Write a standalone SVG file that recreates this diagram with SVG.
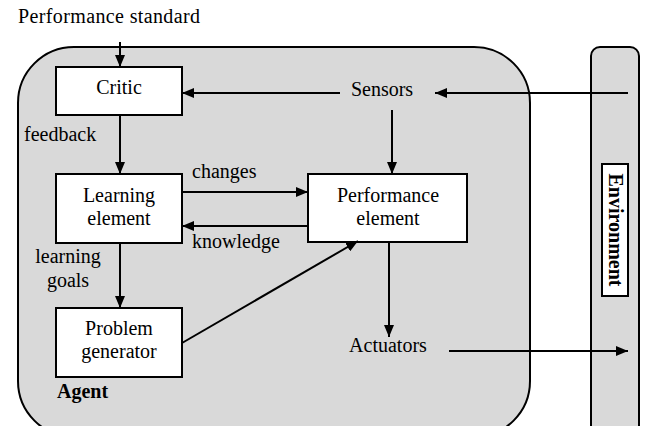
<svg xmlns="http://www.w3.org/2000/svg" width="645" height="426" viewBox="0 0 645 426">
<defs>
<marker id="ah" viewBox="0 0 12 10" refX="12" refY="5" markerWidth="12" markerHeight="10" markerUnits="userSpaceOnUse" orient="auto">
<path d="M0,0 L12,5 L0,10 Z" fill="#000"/>
</marker>
</defs>
<rect width="645" height="426" fill="#fff"/>
<g font-family="Liberation Serif, Times New Roman, serif" font-size="20" font-weight="normal" fill="#000">
<text id="perf-standard" x="18" y="23" textLength="182">Performance standard</text>
<g id="agent-boundary"><rect x="18" y="47" width="512" height="390" rx="56" ry="56" fill="#d9d9d9" stroke="#000" stroke-width="2"/></g>
<g id="environment-boundary">
<rect x="591" y="47" width="48" height="390" rx="9" ry="9" fill="#d9d9d9" stroke="#000" stroke-width="2"/>
<rect x="602" y="164" width="26" height="132" fill="#fff" stroke="#000" stroke-width="2"/>
</g>
<g text-anchor="middle">
<g id="critic">
<rect x="56" y="67" width="126" height="48" fill="#fff" stroke="#000" stroke-width="2"/>
<text x="119" y="94">Critic</text>
</g>
<g id="learning">
<rect x="56" y="174" width="126" height="69" fill="#fff" stroke="#000" stroke-width="2"/>
<text x="119" y="202">Learning</text>
<text x="119" y="225">element</text>
</g>
<g id="problem">
<rect x="56" y="308" width="126" height="69" fill="#fff" stroke="#000" stroke-width="2"/>
<text x="119" y="335">Problem</text>
<text x="119" y="358">generator</text>
</g>
<g id="performance">
<rect x="308" y="174" width="159" height="68" fill="#fff" stroke="#000" stroke-width="2"/>
<text x="388" y="202">Performance</text>
<text x="388" y="225">element</text>
</g>
<g id="sensors"><text x="382" y="96">Sensors</text></g>
<g id="actuators"><text x="388" y="352">Actuators</text></g>
</g>
<g id="connectors">
<g stroke="#000" stroke-width="2" fill="none" marker-end="url(#ah)">
<line x1="120" y1="42" x2="120" y2="67"/>
<line x1="340" y1="93" x2="182" y2="93"/>
<line x1="628" y1="93" x2="435" y2="93"/>
<line x1="392" y1="110" x2="392" y2="174"/>
<line x1="120" y1="115" x2="120" y2="174"/>
<line x1="182" y1="192" x2="308" y2="192"/>
<line x1="308" y1="226" x2="182" y2="226"/>
<line x1="120" y1="243" x2="120" y2="308"/>
<line x1="182" y1="343" x2="358" y2="241"/>
<line x1="389" y1="242" x2="389" y2="337"/>
<line x1="449" y1="351" x2="628" y2="351"/>
</g>
<text x="24" y="141">feedback</text>
<text x="192" y="178">changes</text>
<text x="192" y="248">knowledge</text>
<text x="68" y="263" text-anchor="middle">learning</text>
<text x="68" y="287" text-anchor="middle">goals</text>
</g>
<g id="agent"><text x="57" y="398" font-weight="bold">Agent</text></g>
<g id="environment"><text font-weight="bold" text-anchor="middle" transform="translate(609,230) rotate(90)">Environment</text></g>
</g>
</svg>
